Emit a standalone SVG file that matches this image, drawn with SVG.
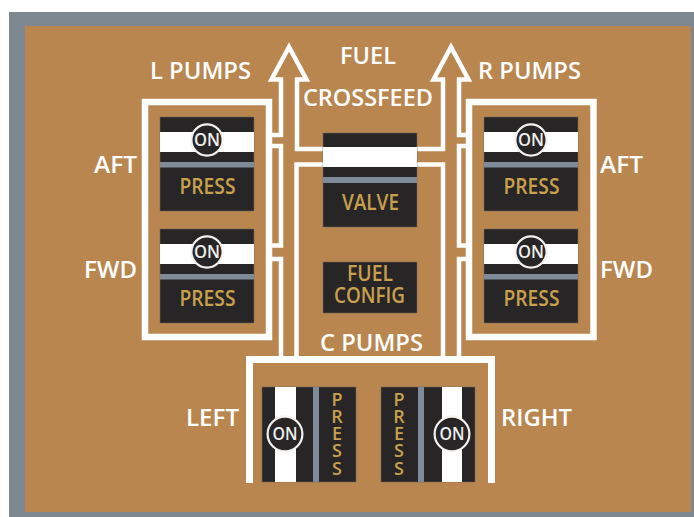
<svg xmlns="http://www.w3.org/2000/svg" width="694" height="517" viewBox="0 0 694 517">
<style>
.t{font-family:"Open Sans","Noto Sans",sans-serif}
.w{fill:#fff;font-size:24px;font-weight:600;text-anchor:middle}
.g{fill:#c9a04e;font-size:21px;font-weight:600;text-anchor:middle}
.v{fill:#c9a04e;font-size:18px;font-weight:600;text-anchor:middle}
.on{fill:#eee;font-size:18px;font-weight:600;text-anchor:middle}
.p{fill:#272526;stroke:#6f675a;stroke-width:.6}
.line{fill:none;stroke:#fff;stroke-width:4.500}
.bar{fill:#fff}
.gb{fill:#7f8b98}
.c{fill:#272526;stroke:#f4f2ee;stroke-width:2.200}
</style>
<defs>
<g id="sw"><rect class="p" x="0" y="0" width="94" height="94"/><rect class="bar" x="0" y="15" width="94" height="20"/><rect class="gb" x="0" y="45" width="94" height="5.500"/><circle class="c" cx="47" cy="23" r="15.600"/><text class="t on" x="47" y="29" textLength="26" lengthAdjust="spacingAndGlyphs">ON</text><text class="t g" x="47.500" y="77" textLength="56" lengthAdjust="spacingAndGlyphs">PRESS</text></g>
</defs>
<rect x="9" y="12" width="685" height="505" fill="#7e8891"/>
<rect x="25" y="26" width="666" height="486" fill="#b98650"/>
<g id="connectors">
<path class="line" d="M272 135H281V79.500H271.500L289 47L306.500 79.500H297V149H323"/>
<path class="line" d="M272 146H281V245.500H272"/>
<path class="line" d="M272 259H281V357"/>
<path class="line" d="M296.500 357V164.500H323"/>
<path class="line" d="M466 135H459V79.500H468.500L451 47L433.500 79.500H443V149H417"/>
<path class="line" d="M466 146H459V245.500H466"/>
<path class="line" d="M466 259H459V357"/>
<path class="line" d="M443 357V164.500H417"/>
</g>
<g id="l-pumps">
<rect x="145" y="102" width="124" height="235" fill="none" stroke="#fff" stroke-width="6.500"/>
<text class="t w" x="200.500" y="79" textLength="101" lengthAdjust="spacingAndGlyphs">L PUMPS</text>
<text class="t w" x="115.500" y="173" textLength="43" lengthAdjust="spacingAndGlyphs">AFT</text>
<text class="t w" x="110.500" y="278" textLength="53" lengthAdjust="spacingAndGlyphs">FWD</text>
<use href="#sw" x="160" y="117"/>
<use href="#sw" x="160" y="229"/>
</g>
<g id="r-pumps">
<rect x="469" y="102" width="124.500" height="235" fill="none" stroke="#fff" stroke-width="6.500"/>
<text class="t w" x="529.500" y="79" textLength="103" lengthAdjust="spacingAndGlyphs">R PUMPS</text>
<text class="t w" x="621.500" y="173" textLength="43" lengthAdjust="spacingAndGlyphs">AFT</text>
<text class="t w" x="626.500" y="278" textLength="53" lengthAdjust="spacingAndGlyphs">FWD</text>
<use href="#sw" x="484" y="117"/>
<use href="#sw" x="484" y="229"/>
</g>
<g id="crossfeed">
<text class="t w" x="368" y="64" textLength="56" lengthAdjust="spacingAndGlyphs">FUEL</text>
<text class="t w" x="368" y="106" textLength="130" lengthAdjust="spacingAndGlyphs">CROSSFEED</text>
<rect class="p" x="323" y="133" width="94" height="94"/><rect class="bar" x="323" y="147" width="94" height="20"/><rect class="gb" x="323" y="177" width="94" height="6"/>
<text class="t g" x="370.500" y="210" textLength="57" lengthAdjust="spacingAndGlyphs">VALVE</text>
</g>
<g id="fuel-config">
<rect class="p" x="323" y="262" width="94" height="51"/>
<text class="t g"><tspan x="370" y="281" textLength="46" lengthAdjust="spacingAndGlyphs">FUEL</tspan><tspan x="369.500" y="303" textLength="71" lengthAdjust="spacingAndGlyphs">CONFIG</tspan></text>
</g>
<g id="c-pumps">
<path d="M249.500 483V359.500H491.500V483" fill="none" stroke="#fff" stroke-width="7"/>
<text class="t w" x="371.500" y="351" textLength="103" lengthAdjust="spacingAndGlyphs">C PUMPS</text>
<text class="t w" x="212.500" y="426" textLength="53" lengthAdjust="spacingAndGlyphs">LEFT</text>
<text class="t w" x="536.500" y="426" textLength="71" lengthAdjust="spacingAndGlyphs">RIGHT</text>
<g id="c-left">
<rect class="p" x="262" y="387" width="94" height="95"/><rect class="bar" x="275" y="387" width="21" height="95"/><rect class="gb" x="313" y="387" width="6" height="95"/>
<circle class="c" cx="285" cy="434" r="17.400"/><text class="t on" x="285" y="440" textLength="25" lengthAdjust="spacingAndGlyphs">ON</text>
<text class="t v" x="337 337 337 337 337" y="406 423 440 457 475">PRESS</text>
</g>
<g id="c-right">
<rect class="p" x="381" y="387" width="94" height="95"/><rect class="bar" x="442" y="387" width="20" height="95"/><rect class="gb" x="418" y="387" width="6" height="95"/>
<circle class="c" cx="452" cy="434" r="17.400"/><text class="t on" x="452" y="440" textLength="25" lengthAdjust="spacingAndGlyphs">ON</text>
<text class="t v" x="399 399 399 399 399" y="406 423 440 457 475">PRESS</text>
</g>
</g>
</svg>
